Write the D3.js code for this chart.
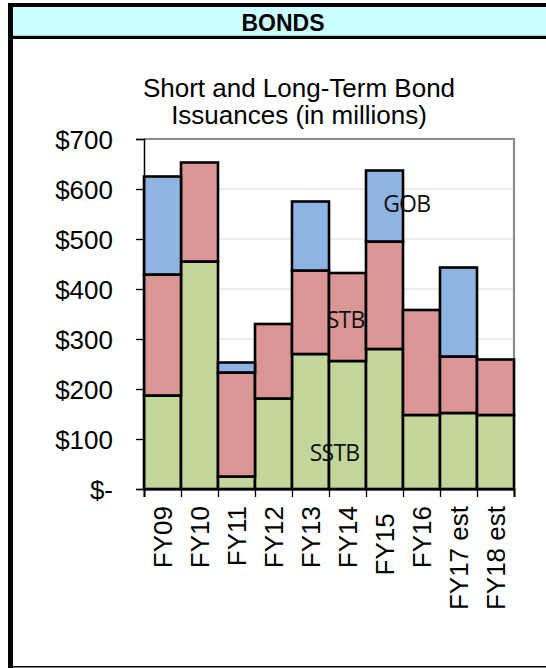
<!DOCTYPE html>
<html>
<head>
<meta charset="utf-8">
<script src="https://cdn.jsdelivr.net/npm/d3@7"></script>
<style>
  body { margin: 0; background: #fff; }
  svg { display: block; }
  text { white-space: pre; }
</style>
</head>
<body>
<script>
// fiscal years on the x axis (FY15 keeps the trailing space it has in the source sheet)
let years = ["FY09", "FY10", "FY11", "FY12", "FY13", "FY14", "FY15 ", "FY16", "FY17 est", "FY18 est"];
// stacked segments, in millions
let sstb = [187, 455, 25, 181, 270, 256, 280, 148, 152, 148];
let stb  = [242, 198, 208, 149, 167, 176, 215, 210, 113, 111];
let gob  = [196, 0, 20, 0, 138, 0, 142, 0, 178, 0];
let seriesNames = ["SSTB", "STB", "GOB"];
let seriesColors = ["#C3D69B", "#D99694", "#8EB4E3"];
let yTicks = [0, 100, 200, 300, 400, 500, 600, 700];

let W = 546, H = 668;
let svg = d3.select("body").append("svg")
    .attr("width", W)
    .attr("height", H);

// frame of the sheet block
svg.append("rect").attr("x", 13).attr("y", 7).attr("width", W - 13).attr("height", 29).attr("fill", "#CCFFFF");
svg.append("rect").attr("x", 13).attr("y", 35).attr("width", W - 13).attr("height", 1).attr("fill", "#99DDDD");
svg.append("rect").attr("x", 8).attr("y", 3).attr("width", W - 8).attr("height", 4).attr("fill", "#000");
svg.append("rect").attr("x", 13).attr("y", 36).attr("width", W - 13).attr("height", 3).attr("fill", "#000");
svg.append("rect").attr("x", 8).attr("y", 3).attr("width", 5).attr("height", H - 3).attr("fill", "#000");
svg.append("rect").attr("x", 13).attr("y", 666).attr("width", W - 13).attr("height", 1.5).attr("fill", "#000");

svg.append("text")
    .attr("x", 283).attr("y", 31)
    .attr("text-anchor", "middle")
    .style("font-family", "Liberation Sans, Arial, sans-serif")
    .style("font-weight", "bold")
    .style("font-size", "23px")
    .text("BONDS");

// chart title
let title = svg.append("text")
    .attr("text-anchor", "middle")
    .style("font-family", "Liberation Sans, Arial, sans-serif")
    .style("font-size", "26px");
title.append("tspan").attr("x", 299).attr("y", 97).text("Short and Long-Term Bond");
title.append("tspan").attr("x", 299).attr("y", 124).text("Issuances (in millions)");

let plotLeft = 144, plotRight = 514, plotTop = 139, plotBottom = 489;

let x = d3.scaleBand().domain(years).range([plotLeft, plotRight]).padding(0);
let y = d3.scaleLinear().domain([0, 700]).range([plotBottom, plotTop]);
let xEdges = d3.scaleLinear().domain([0, years.length]).range([plotLeft, plotRight]);

// gridlines
svg.append("g")
    .selectAll("line")
    .data(yTicks.filter(d => d > 0 && d < 700))
    .enter()
    .append("line")
    .attr("x1", plotLeft).attr("x2", plotRight)
    .attr("y1", d => y(d)).attr("y2", d => y(d))
    .attr("stroke", "#D9D9D9")
    .attr("stroke-width", 1.2);

// plot frame top / right
svg.append("path")
    .attr("d", `M${plotLeft},${plotTop}H${plotRight}V${plotBottom}`)
    .attr("fill", "none")
    .attr("stroke", "#8C8C8C")
    .attr("stroke-width", 2.2);

let table = years.map((yr, i) => ({ year: yr, SSTB: sstb[i], STB: stb[i], GOB: gob[i] }));
let stacked = d3.stack().keys(seriesNames)(table);

svg.append("g")
    .selectAll("g")
    .data(stacked)
    .enter()
    .append("g")
    .attr("fill", (d, i) => seriesColors[i])
    .selectAll("rect")
    .data(d => d.filter(p => p[1] > p[0]))
    .enter()
    .append("rect")
    .attr("x", d => x(d.data.year))
    .attr("width", x.bandwidth())
    .attr("y", d => y(d[1]))
    .attr("height", d => y(d[0]) - y(d[1]))
    .attr("stroke", "#000")
    .attr("stroke-width", 2.6);

// y axis
let yAxis = svg.append("g")
    .attr("transform", `translate(${plotLeft},0)`)
    .call(d3.axisLeft(y).tickValues(yTicks).tickSize(8).tickPadding(23)
        .tickFormat(d => d === 0 ? "$-" : "$" + d));
yAxis.select(".domain").attr("stroke", "#000").attr("stroke-width", 1.5);
yAxis.selectAll(".tick line").attr("stroke", "#000").attr("stroke-width", 1.3);
yAxis.selectAll("text")
    .attr("fill", "#000")
    .attr("dy", "0.36em")
    .style("font-family", "Liberation Sans, Arial, sans-serif")
    .style("font-size", "26px");

// x axis: ticks between categories
let xTickAxis = svg.append("g")
    .attr("transform", `translate(0,${plotBottom})`)
    .call(d3.axisBottom(xEdges).ticks(years.length).tickSize(8).tickFormat(""));
xTickAxis.select(".domain").attr("stroke", "#000").attr("stroke-width", 2);
xTickAxis.selectAll(".tick line").attr("stroke", "#000").attr("stroke-width", 1.3);

let xAxis = svg.append("g")
    .attr("transform", `translate(0,${plotBottom})`)
    .call(d3.axisBottom(x).tickSize(0).tickPadding(0));
xAxis.select(".domain").remove();
xAxis.selectAll("text")
    .attr("fill", "#000")
    .attr("text-anchor", "end")
    .attr("transform", "translate(0,17) rotate(-90)")
    .attr("x", 0).attr("y", 0)
    .attr("dy", "0.36em")
    .style("font-family", "Liberation Sans, Arial, sans-serif")
    .style("font-size", "26px");

// series labels inside the plot
let labels = [
    { name: "GOB", cx: x("FY15 ") + x.bandwidth() * 1.1, v: 570 },
    { name: "STB", cx: x("FY13") + x.bandwidth() * 1.45, v: 338 },
    { name: "SSTB", cx: x("FY13") + x.bandwidth() * 1.15, v: 73 }
];
svg.append("g")
    .selectAll("text")
    .data(labels)
    .enter()
    .append("text")
    .attr("x", d => d.cx)
    .attr("y", d => y(d.v))
    .attr("dy", "0.35em")
    .attr("text-anchor", "middle")
    .style("font-family", "Open Sans, sans-serif")
    .style("font-size", "23px")
    .style("letter-spacing", "-0.8px")
    .attr("fill", "#111")
    .text(d => d.name);
</script>
</body>
</html>
